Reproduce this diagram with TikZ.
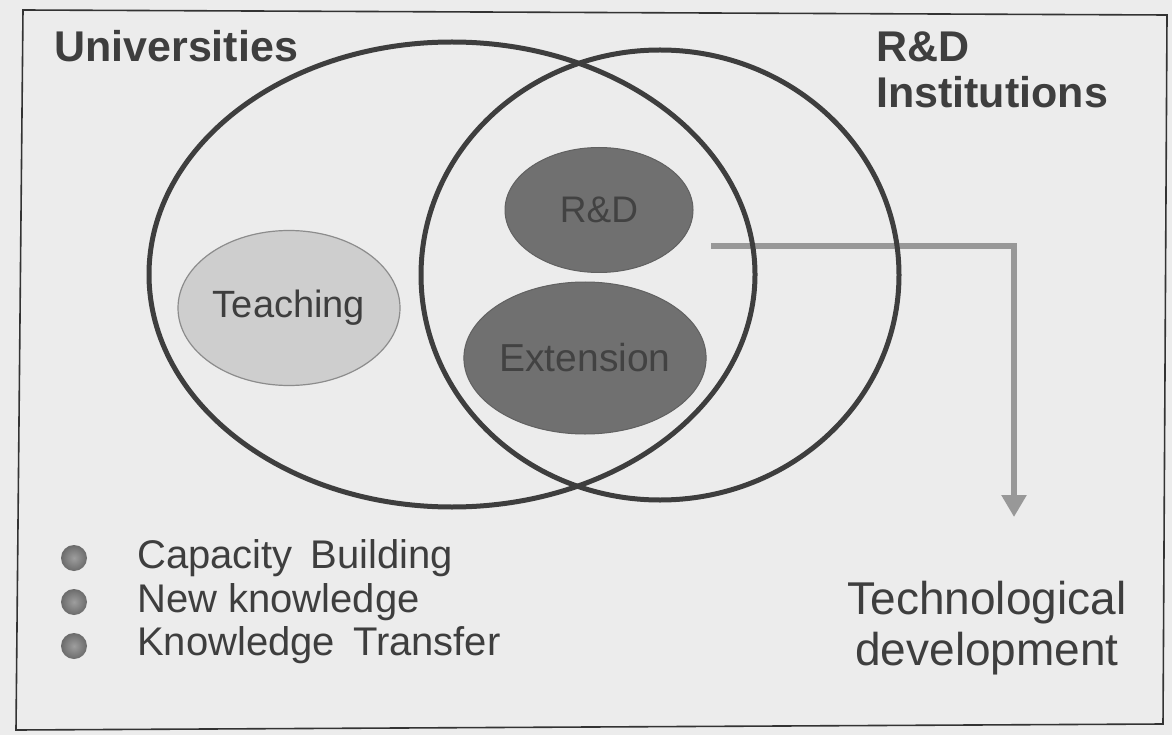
\documentclass[tikz,border=0pt]{standalone}
\usepackage{fontspec}
\setmainfont{Liberation Sans}
\usetikzlibrary{shapes,arrows.meta,positioning}

\definecolor{paper}{RGB}{236,236,236}
\definecolor{ink}{RGB}{62,62,62}
\definecolor{lightfill}{RGB}{206,206,206}
\definecolor{darkfill}{RGB}{112,112,112}
\definecolor{flowgray}{RGB}{152,152,152}

\begin{document}
\begin{tikzpicture}[x=1pt,y=-1pt,on grid,
  sector/.style={ellipse,draw=ink,line width=5pt,inner sep=0pt},
  activity/.style={ellipse,inner sep=0pt,fill=darkfill,draw=black!62,line width=1pt,text=black!74},
  heading/.style={font=\fontsize{43}{46}\selectfont\bfseries,text=ink,inner sep=0pt,align=left},
  item/.style={font=\fontsize{40}{44}\selectfont,text=ink,inner sep=0pt,anchor=base west},
  dot/.style={circle,inner sep=0pt,minimum size=26pt,inner color=black!38,outer color=black!58},
  flow/.style={draw=flowgray,line width=6pt,-{Triangle[width=24pt,length=22pt]}}]
  % page and frame
  \fill[paper] (0,0) rectangle (1172,735);
  \draw[line width=1.6pt,black!80] (23,10) -- (1167,15) -- (1163,724) -- (16,730) -- cycle;

  % flow out of the overlap
  \coordinate (src) at (711,246);
  \coordinate (tip) at (1014,517);
  \draw[flow] (src) -| (tip);

  % the two sectors
  \node[sector,minimum width=606pt,minimum height=465pt] (uni) at (452,274.5) {};
  \node[sector,minimum width=478pt,minimum height=450pt] (inst) at (660,275) {};

  % activities
  \node[ellipse,inner sep=0pt,fill=lightfill,draw=black!45,line width=1.2pt,
        minimum width=222pt,minimum height=155pt,text=ink,
        font=\fontsize{38}{44}\selectfont] (teach) at (289,308) {Teaching};
  \node[activity,minimum width=188pt,minimum height=125pt,
        font=\fontsize{37}{44}\selectfont] (rnd) at (599,210) {R\&D};
  \node[activity,minimum width=230pt,minimum height=152pt,
        font=\fontsize{39}{44}\selectfont,below=148pt of rnd,xshift=-14pt] (ext) {Extension};

  % sector names
  \node[heading,anchor=base west] (unilabel) at (54,62) {Universities};
  \node[heading,anchor=north west] (instlabel) at (876,32) {R\&D\\Institutions};

  % outputs
  \node[dot] (b1) at (74,558) {};
  \node[dot,below=44pt of b1] (b2) {};
  \node[dot,below=44pt of b2] (b3) {};
  \node[item] (cap) at (137,568) {Capacity\hspace{0.45em}Building};
  \node[item] (new) at (137,612) {New knowledge};
  \node[item] (trans) at (137,655) {Knowledge\hspace{0.45em}Transfer};

  \node[font=\fontsize{46}{51}\selectfont,text=ink,align=center,inner sep=0pt,anchor=north]
    (tech) at (987,581) {Technological\\development};
\end{tikzpicture}
\end{document}
